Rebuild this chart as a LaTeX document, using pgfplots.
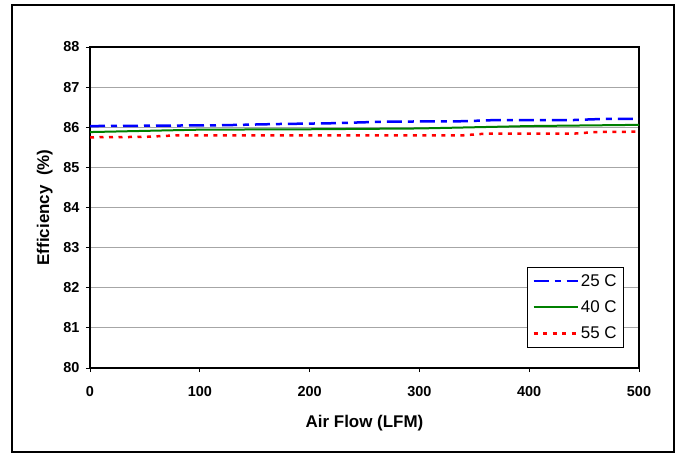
\documentclass[border=0pt]{standalone}
\usepackage{fontspec}
\setmainfont{Liberation Sans}
\usepackage{pgfplots}
\pgfplotsset{compat=1.18}
\definecolor{xlblue}{RGB}{0,0,255}
\definecolor{xlgreen}{RGB}{0,128,0}
\definecolor{xlred}{RGB}{255,0,0}
\begin{document}
\begin{tikzpicture}
\path[use as bounding box] (-90bp,-86bp) rectangle (588bp,368bp);
\draw[line width=2bp] (-78bp,-84bp) rectangle (584bp,363bp);
\begin{axis}[
  at={(0,0)}, anchor=south west,
  scale only axis, width=549bp, height=321bp,
  xmin=0, xmax=500, ymin=80, ymax=88,
  xtick={0,100,...,500}, ytick={80,81,...,88},
  xtick pos=bottom, ytick pos=left,
  tick align=outside, major tick length=4bp,
  tick style={black, line width=0.8bp},
  axis line style={line width=1.5bp},
  ymajorgrids, grid style={gray!70, line width=1bp},
  /pgf/number format/assume math mode=true,
  ticklabel style={font=\bfseries\fontsize{14.5}{16}\selectfont},
  xticklabel style={yshift=-11bp},
  yticklabel style={xshift=-3bp},
  xlabel={Air Flow (LFM)}, ylabel={Efficiency\ \ (\%)},
  label style={font=\bfseries\fontsize{17}{19}\selectfont},
  xlabel style={yshift=-12bp},
  ylabel style={yshift=4bp},
  legend style={at={(0.796,0.315)}, anchor=north west, draw=black, line width=0.8bp,
    font=\fontsize{17}{19}\selectfont, inner xsep=5bp, inner ysep=5bp,
    row sep=9bp, cells={anchor=west}},
  legend image code/.code={\draw[#1] (0bp,0bp) -- (44bp,0bp);},
]
\addplot[xlblue, line width=2.5bp, dash pattern=on 15bp off 6bp on 6bp off 6bp] coordinates {
 (0,86.03) (60,86.04) (120,86.05) (170,86.08) (220,86.10) (270,86.14) (340,86.15) (370,86.18) (440,86.18) (470,86.21) (500,86.21)};
\addlegendentry{25 C}
\addplot[xlgreen, line width=2bp] coordinates {
 (0,85.88) (100,85.94) (200,85.95) (300,85.97) (400,86.03) (500,86.06)};
\addlegendentry{40 C}
\addplot[xlred, line width=2.5bp, dash pattern=on 4bp off 5.5bp] coordinates {
 (0,85.75) (50,85.76) (80,85.80) (200,85.80) (340,85.80) (360,85.84) (440,85.84) (460,85.88) (500,85.89)};
\addlegendentry{55 C}
\end{axis}
\end{tikzpicture}
\end{document}
